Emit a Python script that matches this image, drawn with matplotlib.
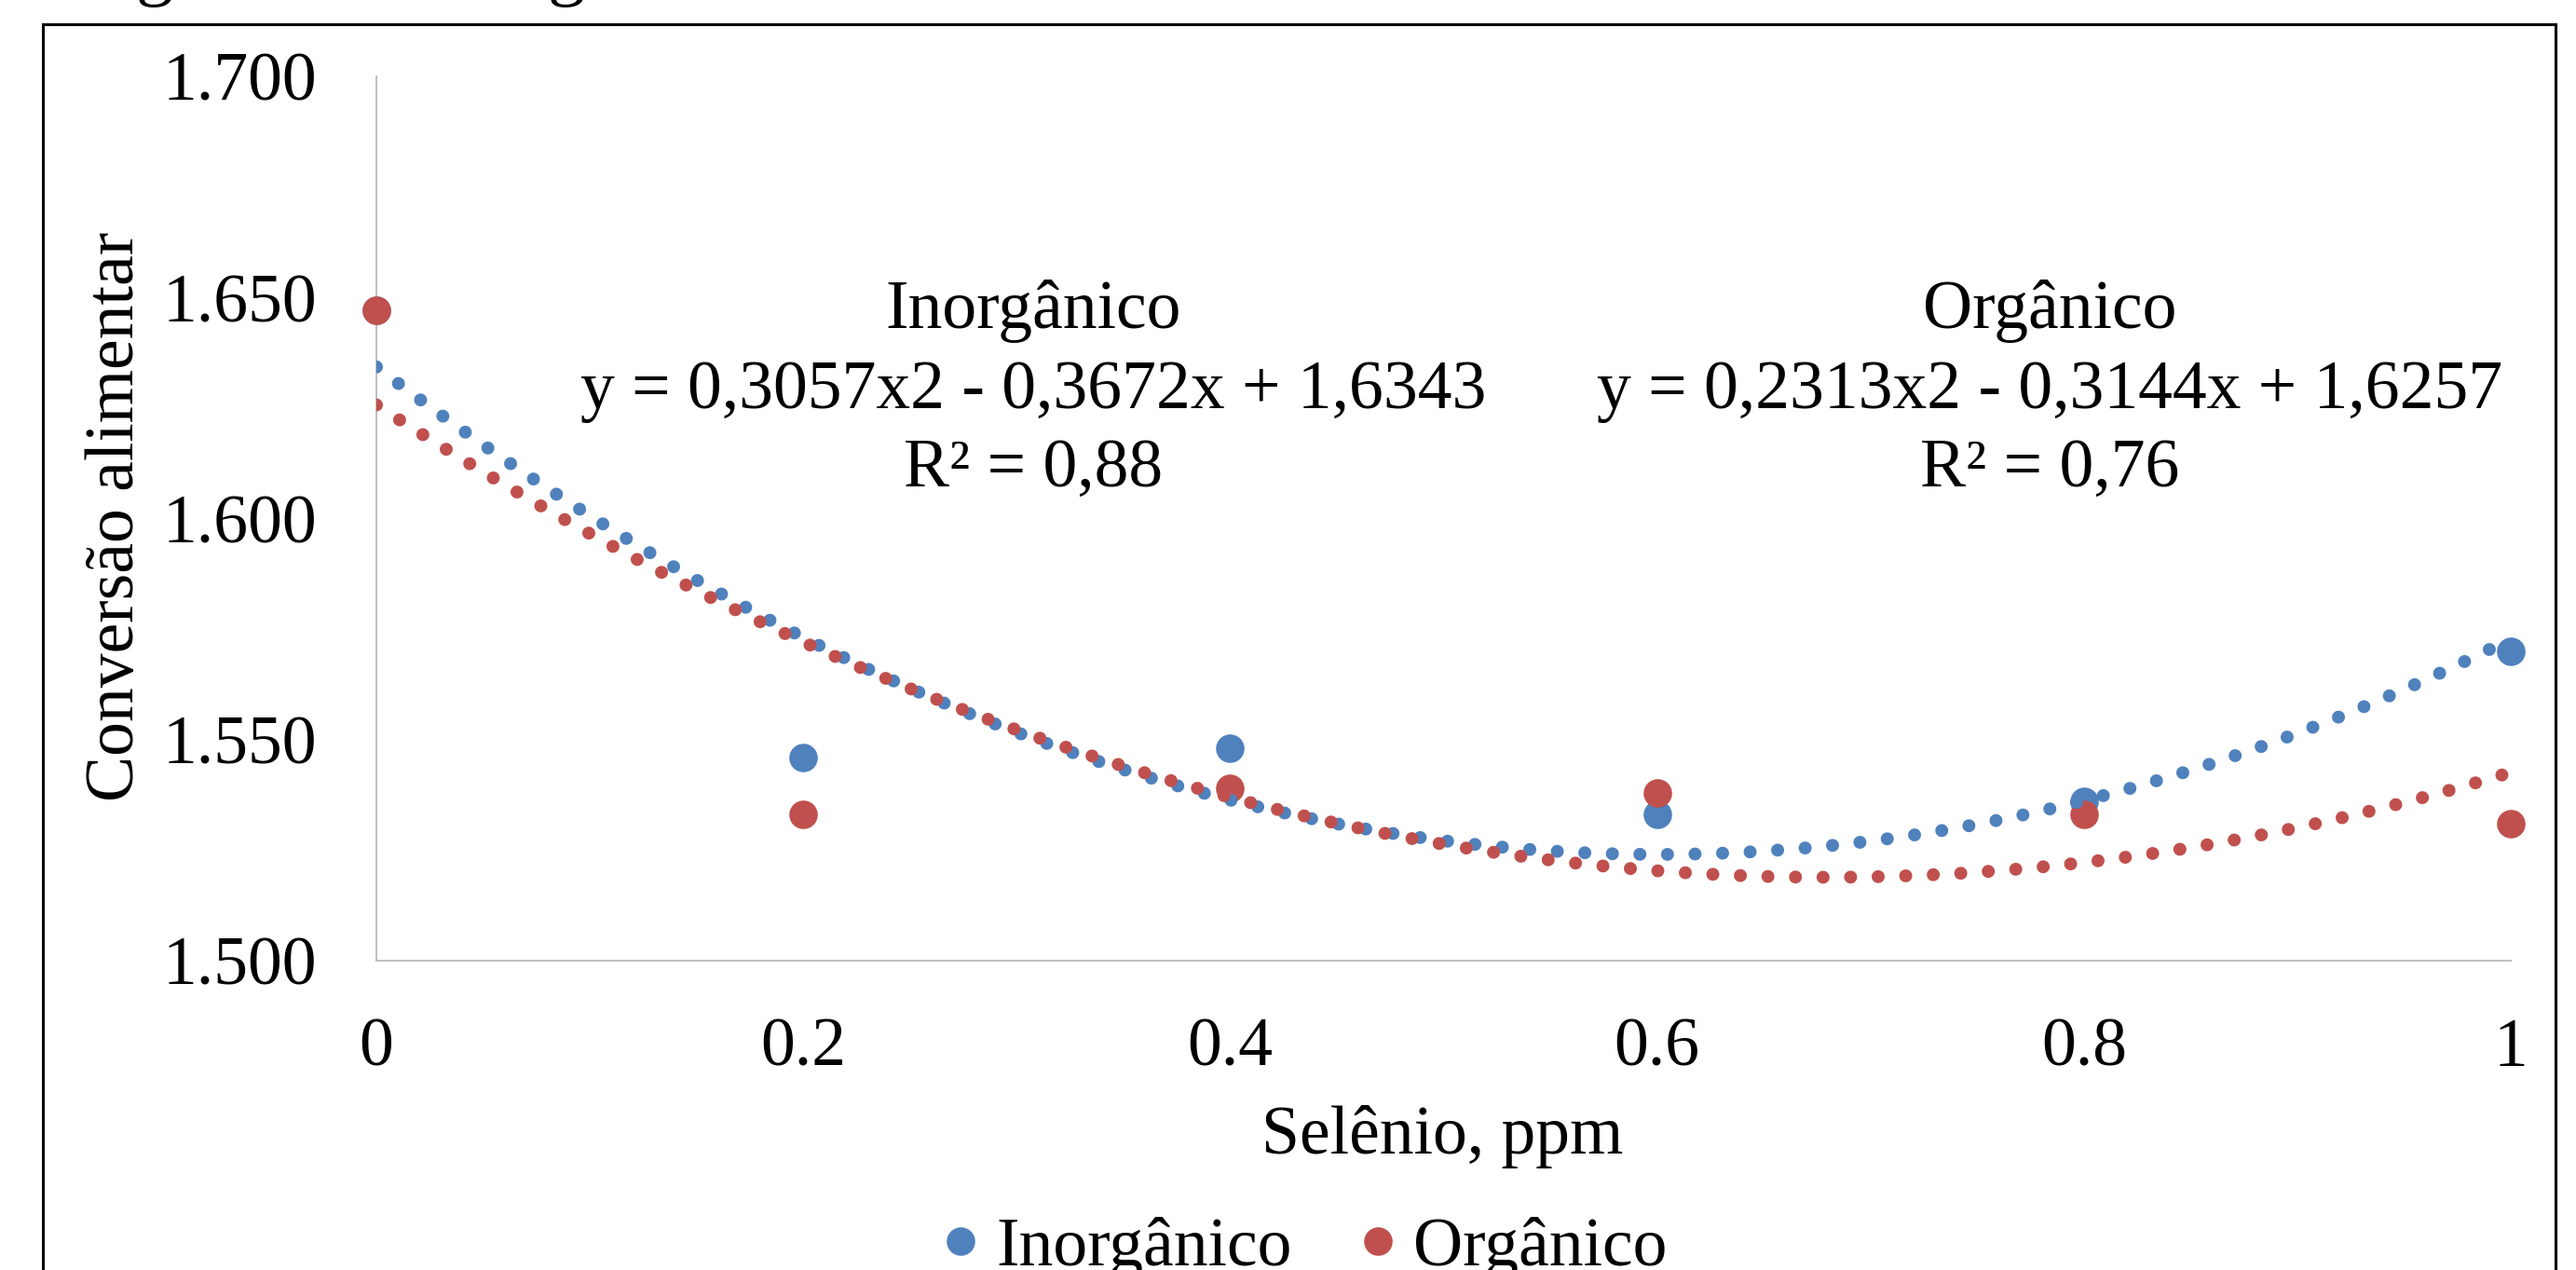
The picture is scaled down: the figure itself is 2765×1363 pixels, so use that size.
import numpy as np
import matplotlib
matplotlib.use("Agg")
import matplotlib.pyplot as plt
from matplotlib.patches import Rectangle
from matplotlib.lines import Line2D

# ---------------- data ----------------
selenio = [0.0, 0.2, 0.4, 0.6, 0.8, 1.0]
inorganico = [1.647, 1.546, 1.548, 1.533, 1.536, 1.570]
organico = [1.647, 1.533, 1.539, 1.538, 1.533, 1.531]

coef_inorganico = [0.3057, -0.3672, 1.6343]
coef_organico = [0.2313, -0.3144, 1.6257]

series_names = ["Inorgânico", "Orgânico"]
eq_inorganico = ["Inorgânico", "y = 0,3057x2 - 0,3672x + 1,6343", "R² = 0,88"]
eq_organico = ["Orgânico", "y = 0,2313x2 - 0,3144x + 1,6257", "R² = 0,76"]

x_ticks = [0, 0.2, 0.4, 0.6, 0.8, 1.0]
x_ticklabels = ["0", "0.2", "0.4", "0.6", "0.8", "1"]
y_ticks = [1.500, 1.550, 1.600, 1.650, 1.700]
y_ticklabels = ["1.500", "1.550", "1.600", "1.650", "1.700"]

xlabel = "Selênio, ppm"
ylabel = "Conversão alimentar"

# ---------------- style ----------------
W, H = 2765, 1363
DPI = 100
BLUE = "#4F81BD"
RED = "#C0504D"
GRAY = "#BFBFBF"
FS = 53
plt.rcParams["font.family"] = ["Liberation Serif", "DejaVu Serif"]

def fx(px):
    return px / W

def fy(py):
    return 1 - py / H

fig = plt.figure(figsize=(W / DPI, H / DPI), dpi=DPI)
fig.patch.set_facecolor("white")

ax_left, ax_right, ax_top, ax_bottom = 404, 2695, 82, 1031
ax = fig.add_axes([fx(ax_left), fy(ax_bottom), (ax_right - ax_left) / W, (ax_bottom - ax_top) / H])
ax.set_xlim(0, 1)
ax.set_ylim(1.5, 1.7)

for s in ["top", "right"]:
    ax.spines[s].set_visible(False)
for s in ["left", "bottom"]:
    ax.spines[s].set_color(GRAY)
    ax.spines[s].set_linewidth(1.4)

ax.set_xticks(x_ticks)
ax.set_xticklabels(x_ticklabels)
ax.set_yticks(y_ticks)
ax.set_yticklabels(y_ticklabels)
ax.tick_params(axis="both", length=0, labelsize=FS)
ax.tick_params(axis="y", pad=46)
ax.tick_params(axis="x", pad=44)

# markers
ms = 22
ax.plot(selenio, inorganico, linestyle="none", marker="o", ms=ms, color=BLUE,
        markeredgewidth=0, zorder=3, clip_on=False)
ax.plot(selenio, organico, linestyle="none", marker="o", ms=ms, color=RED,
        markeredgewidth=0, zorder=3, clip_on=False)

# trendlines (polynomial order 2 from the displayed coefficients)
xt = np.linspace(0, 1, 400)
lw = 10.0
dash = (0, (0.01, 2.12))
ax.plot(xt, np.polyval(coef_inorganico, xt), color=BLUE, lw=lw, linestyle=dash,
        dash_capstyle="round", zorder=4)
ax.plot(xt, np.polyval(coef_organico, xt), color=RED, lw=lw, linestyle=dash,
        dash_capstyle="round", zorder=5)

# equation labels
baselines = [352, 438, 522]
for cx, lines in [(1109, eq_inorganico), (2200, eq_organico)]:
    for by, t in zip(baselines, lines):
        fig.text(fx(cx), fy(by), t, ha="center", va="baseline", fontsize=FS)

# axis titles
fig.text(fx(1548), fy(1238), xlabel, ha="center", va="baseline", fontsize=FS)
fig.text(fx(125), fy(554), ylabel, ha="center", va="center", rotation=90, fontsize=FS)

# legend
handles = [Line2D([], [], linestyle="none", marker="o", ms=ms, color=c, markeredgewidth=0)
           for c in (BLUE, RED)]
fig.legend(handles, series_names, loc="center", bbox_to_anchor=(fx(1401), fy(1340)),
           ncol=2, frameon=False, fontsize=FS, handlelength=0.5, handletextpad=0.27,
           columnspacing=1.0, borderpad=0, borderaxespad=0)

# chart-area frame (cut at the bottom as in the reference)
fig.add_artist(Rectangle((fx(46), -0.02), (2743 - 46) / W, (H - 26) / H + 0.02,
                         transform=fig.transFigure, fill=False, edgecolor="black",
                         linewidth=2.2))

# fragments of a title cut off above the image
for gx in (166, 608):
    fig.text(fx(gx), fy(-9), "g", ha="center", va="baseline", fontsize=58)

fig.savefig("out.png", dpi=DPI, facecolor="white")
